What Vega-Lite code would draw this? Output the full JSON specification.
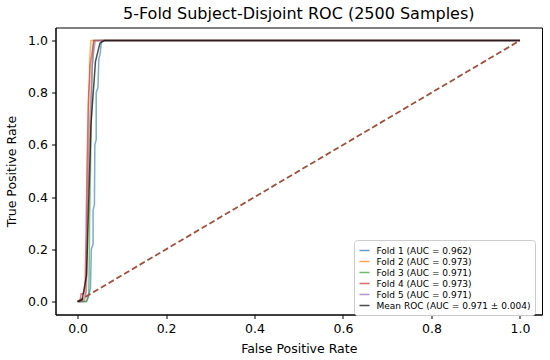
{
  "$schema": "https://vega.github.io/schema/vega-lite/v6.json",
  "autosize": {"type": "none"},
  "width": 486.5,
  "height": 287,
  "padding": {"left": 55.5, "top": 27.5, "right": 8, "bottom": 45.5},
  "background": "white",
  "config": {
    "font": "DejaVu Sans",
    "view": {"stroke": "black", "strokeWidth": 1},
    "axis": {"grid": false, "domainColor": "black", "tickColor": "black", "labelColor": "black", "titleColor": "black", "labelFontSize": 12.5, "titleFontSize": 12.5, "titleFontWeight": "normal", "tickSize": 4, "labelPadding": 4}
  },
  "title": {"text": "5-Fold Subject-Disjoint ROC (2500 Samples)", "fontSize": 16, "fontWeight": "normal", "color": "black", "anchor": "middle", "offset": 6},
  "datasets": {
    "roc": [
      {"series": "Fold 1 (AUC = 0.962)", "i": 0, "fpr": 0, "tpr": 0},
      {"series": "Fold 1 (AUC = 0.962)", "i": 1, "fpr": 0.02, "tpr": 0},
      {"series": "Fold 1 (AUC = 0.962)", "i": 2, "fpr": 0.024, "tpr": 0.02},
      {"series": "Fold 1 (AUC = 0.962)", "i": 3, "fpr": 0.029, "tpr": 0.05},
      {"series": "Fold 1 (AUC = 0.962)", "i": 4, "fpr": 0.031, "tpr": 0.2},
      {"series": "Fold 1 (AUC = 0.962)", "i": 5, "fpr": 0.035, "tpr": 0.22},
      {"series": "Fold 1 (AUC = 0.962)", "i": 6, "fpr": 0.035, "tpr": 0.35},
      {"series": "Fold 1 (AUC = 0.962)", "i": 7, "fpr": 0.038, "tpr": 0.37},
      {"series": "Fold 1 (AUC = 0.962)", "i": 8, "fpr": 0.039, "tpr": 0.6},
      {"series": "Fold 1 (AUC = 0.962)", "i": 9, "fpr": 0.042, "tpr": 0.62},
      {"series": "Fold 1 (AUC = 0.962)", "i": 10, "fpr": 0.042, "tpr": 0.8},
      {"series": "Fold 1 (AUC = 0.962)", "i": 11, "fpr": 0.046, "tpr": 0.82},
      {"series": "Fold 1 (AUC = 0.962)", "i": 12, "fpr": 0.048, "tpr": 0.93},
      {"series": "Fold 1 (AUC = 0.962)", "i": 13, "fpr": 0.051, "tpr": 0.95},
      {"series": "Fold 1 (AUC = 0.962)", "i": 14, "fpr": 0.054, "tpr": 1},
      {"series": "Fold 1 (AUC = 0.962)", "i": 15, "fpr": 1, "tpr": 1},
      {"series": "Fold 2 (AUC = 0.973)", "i": 0, "fpr": 0, "tpr": 0},
      {"series": "Fold 2 (AUC = 0.973)", "i": 1, "fpr": 0.015, "tpr": 0},
      {"series": "Fold 2 (AUC = 0.973)", "i": 2, "fpr": 0.018, "tpr": 0.02},
      {"series": "Fold 2 (AUC = 0.973)", "i": 3, "fpr": 0.02, "tpr": 0.15},
      {"series": "Fold 2 (AUC = 0.973)", "i": 4, "fpr": 0.022, "tpr": 0.4},
      {"series": "Fold 2 (AUC = 0.973)", "i": 5, "fpr": 0.024, "tpr": 0.62},
      {"series": "Fold 2 (AUC = 0.973)", "i": 6, "fpr": 0.025, "tpr": 0.8},
      {"series": "Fold 2 (AUC = 0.973)", "i": 7, "fpr": 0.027, "tpr": 0.84},
      {"series": "Fold 2 (AUC = 0.973)", "i": 8, "fpr": 0.027, "tpr": 0.92},
      {"series": "Fold 2 (AUC = 0.973)", "i": 9, "fpr": 0.029, "tpr": 0.97},
      {"series": "Fold 2 (AUC = 0.973)", "i": 10, "fpr": 0.03, "tpr": 1},
      {"series": "Fold 2 (AUC = 0.973)", "i": 11, "fpr": 1, "tpr": 1},
      {"series": "Fold 3 (AUC = 0.971)", "i": 0, "fpr": 0, "tpr": 0},
      {"series": "Fold 3 (AUC = 0.971)", "i": 1, "fpr": 0.02, "tpr": 0},
      {"series": "Fold 3 (AUC = 0.971)", "i": 2, "fpr": 0.025, "tpr": 0.02},
      {"series": "Fold 3 (AUC = 0.971)", "i": 3, "fpr": 0.026, "tpr": 0.1},
      {"series": "Fold 3 (AUC = 0.971)", "i": 4, "fpr": 0.027, "tpr": 0.3},
      {"series": "Fold 3 (AUC = 0.971)", "i": 5, "fpr": 0.029, "tpr": 0.5},
      {"series": "Fold 3 (AUC = 0.971)", "i": 6, "fpr": 0.031, "tpr": 0.72},
      {"series": "Fold 3 (AUC = 0.971)", "i": 7, "fpr": 0.033, "tpr": 0.9},
      {"series": "Fold 3 (AUC = 0.971)", "i": 8, "fpr": 0.036, "tpr": 1},
      {"series": "Fold 3 (AUC = 0.971)", "i": 9, "fpr": 1, "tpr": 1},
      {"series": "Fold 4 (AUC = 0.973)", "i": 0, "fpr": 0, "tpr": 0},
      {"series": "Fold 4 (AUC = 0.973)", "i": 1, "fpr": 0.005, "tpr": 0},
      {"series": "Fold 4 (AUC = 0.973)", "i": 2, "fpr": 0.008, "tpr": 0.03},
      {"series": "Fold 4 (AUC = 0.973)", "i": 3, "fpr": 0.014, "tpr": 0.03},
      {"series": "Fold 4 (AUC = 0.973)", "i": 4, "fpr": 0.017, "tpr": 0.06},
      {"series": "Fold 4 (AUC = 0.973)", "i": 5, "fpr": 0.019, "tpr": 0.25},
      {"series": "Fold 4 (AUC = 0.973)", "i": 6, "fpr": 0.021, "tpr": 0.5},
      {"series": "Fold 4 (AUC = 0.973)", "i": 7, "fpr": 0.024, "tpr": 0.75},
      {"series": "Fold 4 (AUC = 0.973)", "i": 8, "fpr": 0.028, "tpr": 0.9},
      {"series": "Fold 4 (AUC = 0.973)", "i": 9, "fpr": 0.034, "tpr": 0.97},
      {"series": "Fold 4 (AUC = 0.973)", "i": 10, "fpr": 0.037, "tpr": 1},
      {"series": "Fold 4 (AUC = 0.973)", "i": 11, "fpr": 1, "tpr": 1},
      {"series": "Fold 5 (AUC = 0.971)", "i": 0, "fpr": 0, "tpr": 0},
      {"series": "Fold 5 (AUC = 0.971)", "i": 1, "fpr": 0.012, "tpr": 0},
      {"series": "Fold 5 (AUC = 0.971)", "i": 2, "fpr": 0.016, "tpr": 0.02},
      {"series": "Fold 5 (AUC = 0.971)", "i": 3, "fpr": 0.02, "tpr": 0.04},
      {"series": "Fold 5 (AUC = 0.971)", "i": 4, "fpr": 0.022, "tpr": 0.3},
      {"series": "Fold 5 (AUC = 0.971)", "i": 5, "fpr": 0.025, "tpr": 0.55},
      {"series": "Fold 5 (AUC = 0.971)", "i": 6, "fpr": 0.029, "tpr": 0.75},
      {"series": "Fold 5 (AUC = 0.971)", "i": 7, "fpr": 0.033, "tpr": 0.9},
      {"series": "Fold 5 (AUC = 0.971)", "i": 8, "fpr": 0.036, "tpr": 0.95},
      {"series": "Fold 5 (AUC = 0.971)", "i": 9, "fpr": 0.04, "tpr": 1},
      {"series": "Fold 5 (AUC = 0.971)", "i": 10, "fpr": 1, "tpr": 1}
    ],
    "mean": [
      {"series": "Mean ROC (AUC = 0.971 ± 0.004)", "i": 0, "fpr": 0, "tpr": 0},
      {"series": "Mean ROC (AUC = 0.971 ± 0.004)", "i": 1, "fpr": 0.0101, "tpr": 0.006},
      {"series": "Mean ROC (AUC = 0.971 ± 0.004)", "i": 2, "fpr": 0.0202, "tpr": 0.1},
      {"series": "Mean ROC (AUC = 0.971 ± 0.004)", "i": 3, "fpr": 0.0303, "tpr": 0.68},
      {"series": "Mean ROC (AUC = 0.971 ± 0.004)", "i": 4, "fpr": 0.0404, "tpr": 0.92},
      {"series": "Mean ROC (AUC = 0.971 ± 0.004)", "i": 5, "fpr": 0.0505, "tpr": 0.99},
      {"series": "Mean ROC (AUC = 0.971 ± 0.004)", "i": 6, "fpr": 0.0606, "tpr": 1},
      {"series": "Mean ROC (AUC = 0.971 ± 0.004)", "i": 7, "fpr": 1, "tpr": 1}
    ],
    "chance": [
      {"fpr": 0, "tpr": 0},
      {"fpr": 1, "tpr": 1}
    ]
  },
  "encoding": {
    "x": {"field": "fpr", "type": "quantitative", "scale": {"domain": [-0.05, 1.05], "nice": false, "zero": false}, "axis": {"values": [0, 0.2, 0.4, 0.6, 0.8, 1.0], "format": ".1f", "title": "False Positive Rate", "titlePadding": 7}},
    "y": {"field": "tpr", "type": "quantitative", "scale": {"domain": [-0.05, 1.05], "nice": false, "zero": false}, "axis": {"values": [0, 0.2, 0.4, 0.6, 0.8, 1.0], "format": ".1f", "title": "True Positive Rate", "titlePadding": 9}}
  },
  "layer": [
    {
      "data": {"name": "roc"},
      "mark": {"type": "line", "strokeWidth": 1.5, "opacity": 0.6},
      "encoding": {
        "order": {"field": "i", "type": "quantitative"},
        "color": {
          "field": "series", "type": "nominal",
          "scale": {
            "domain": ["Fold 1 (AUC = 0.962)", "Fold 2 (AUC = 0.973)", "Fold 3 (AUC = 0.971)", "Fold 4 (AUC = 0.973)", "Fold 5 (AUC = 0.971)", "Mean ROC (AUC = 0.971 ± 0.004)"],
            "range": ["#1f77b4", "#ff7f0e", "#2ca02c", "#d62728", "#9467bd", "#000000"]
          },
          "legend": {
            "title": null, "orient": "none", "legendX": 298.5, "legendY": 212.5,
            "symbolType": "stroke", "symbolSize": 100, "symbolStrokeWidth": 1.5, "symbolOpacity": 0.6,
            "labelFontSize": 9, "labelColor": "black", "labelLimit": 300, "labelOffset": 6,
            "rowPadding": 0, "padding": 4.5, "fillColor": "white", "strokeColor": "#cccccc", "cornerRadius": 3
          }
        }
      }
    },
    {
      "data": {"name": "chance"},
      "mark": {"type": "line", "color": "#a0513c", "strokeWidth": 1.8, "strokeDash": [6, 3]},
      "encoding": {}
    },
    {
      "data": {"name": "mean"},
      "mark": {"type": "line", "strokeWidth": 1.5, "opacity": 0.7},
      "encoding": {
        "order": {"field": "i", "type": "quantitative"},
        "color": {"field": "series", "type": "nominal"}
      }
    }
  ]
}
